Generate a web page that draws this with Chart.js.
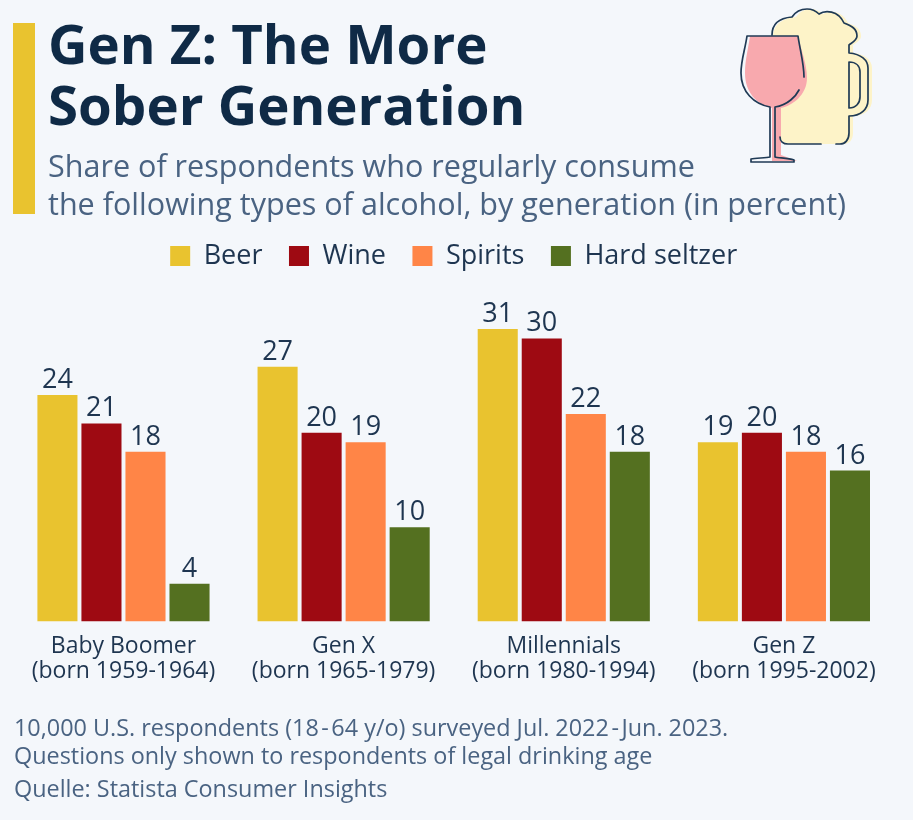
<!DOCTYPE html>
<html>
<head>
<meta charset="utf-8">
<script src="https://cdn.jsdelivr.net/npm/chart.js@4"></script>
<style>
  html, body { margin: 0; padding: 0; background: #f4f7fb; }
  body { width: 913px; height: 820px; position: relative; overflow: hidden; font-family: "Open Sans", sans-serif; }
  #sample_chart { position: absolute; left: 0; top: 0; }
  .txt { position: absolute; white-space: nowrap; }
  .hy { margin: 0 2.5px; }
  #bar { position: absolute; left: 13px; top: 23px; width: 22px; height: 191px; background: #e9c32f; }
  #title { left: 48px; top: 13px; font-size: 54.6px; font-weight: 700; line-height: 61px; color: #0f2a46; }
  #subtitle { left: 48px; top: 146px; font-size: 30.55px; line-height: 38px; color: #4a6382; }
  #note { left: 14px; top: 713px; font-size: 23.4px; line-height: 28px; color: #4a6382; }
  #source { left: 14px; top: 774px; font-size: 23.4px; line-height: 28px; color: #4a6382; }
  #icon { position: absolute; left: 720px; top: 0; }
</style>
</head>
<body>
<canvas id="sample_chart" width="913" height="820"></canvas>
<div id="bar"></div>
<div id="title" class="txt">Gen Z: The More<br>Sober Generation</div>
<div id="subtitle" class="txt">Share of respondents who regularly consume<br>the following types of alcohol, by generation (in percent)</div>
<div id="note" class="txt">10,000 U.S. respondents (18<span class="hy">-</span>64 y/o) surveyed Jul. 2022<span class="hy">-</span>Jun. 2023.<br>Questions only shown to respondents of legal drinking age</div>
<div id="source" class="txt">Quelle: Statista Consumer Insights</div>
<svg id="icon" width="193" height="175" viewBox="0 0 193 175">
  <path transform="translate(4 0)" fill="#fdf3c8" d="M49 35 C50 23 60 18 72 17 C76 11 82 9 87 9 C91 9 96 11 99 14 C105 10 118 10 124 23 C132 26 137 29 137 36 C137 40 133 42 129 45 L129 53 C141 54 148 60 148 68 L148 100 C148 109 141 116 129 116 L129 133 C129 140 125 144 120 144 L68 144 C60 144 55 140 55 133 Z"/>
  <path fill="#f8a9ae" d="M30 36 L78 36 C81 50 87 64 87 78 C87 95 72 106 61 108 L61 155 L77 161 L52 161 L52 108 C36 104 25 92 25 73 C25 60 28 50 30 36 Z"/>
  <g fill="none" stroke="#1f3a55" stroke-width="1.7" stroke-linecap="round" stroke-linejoin="round">
    <path d="M52 35 C52 23 60 18 72 17 C76 11 82 9 87 9 C91 9 96 11 99 14 C105 10 118 10 124 23 C132 26 137 29 137 36 C137 40 133 42 129 45 L129 53 C141 54 148 60 148 68 L148 100 C148 109 141 116 129 116 L129 133 C129 140 125 144 120 144 L116 144 M101 144 L68 144 C63 144 60 141 60 137"/>
    <path d="M129 62 C136 62 140 66 140 72 L140 97 C140 103 136 108 129 108 Z"/>
    <path d="M27 36 L78 36 C80 50 84 64 84 77 M27 36 C25 50 21 60 21 73 C21 92 34 104 50 107 L50 157 C46 158 36 158 31 159 L31 162 L74 162 L74 160 C68 158 58 158 55 157 L55 107 C68 105 76 96 79 90"/>
  </g>
</svg>
<script>
const categories = [
  ['Baby Boomer', '(born 1959-1964)'],
  ['Gen X', '(born 1965-1979)'],
  ['Millennials', '(born 1980-1994)'],
  ['Gen Z', '(born 1995-2002)']
];
const beer = [24, 27, 31, 19];
const wine = [21, 20, 30, 20];
const spirits = [18, 19, 22, 18];
const hardSeltzer = [4, 10, 18, 16];

// value above each bar
const valueLabels = {
  id: 'valueLabels',
  afterDatasetsDraw(chart) {
    const c = chart.ctx;
    c.save();
    c.font = '27px "Open Sans"';
    c.fillStyle = '#1e3550';
    c.textAlign = 'center';
    c.textBaseline = 'alphabetic';
    chart.data.datasets.forEach((ds, i) => {
      chart.getDatasetMeta(i).data.forEach((bar, j) => {
        c.fillText(ds.data[j], bar.x, bar.y - 7);
      });
    });
    c.restore();
  }
};

const ctx = document.getElementById('sample_chart');
const myChart = new Chart(ctx, {
  type: 'bar',
  data: {
    labels: categories,
    datasets: [
      { label: 'Beer', data: beer, backgroundColor: '#e9c32f' },
      { label: 'Wine', data: wine, backgroundColor: '#9e0a12' },
      { label: 'Spirits', data: spirits, backgroundColor: '#ff8547' },
      { label: 'Hard seltzer', data: hardSeltzer, backgroundColor: '#547020' }
    ]
  },
  options: {
    responsive: false,
    animation: false,
    layout: { padding: { left: 13.4, right: 19, top: 216, bottom: 123.5 } },
    datasets: { bar: { categoryPercentage: 0.8, barPercentage: 0.91 } },
    plugins: {
      tooltip: { enabled: false },
      legend: {
        position: 'top',
        labels: {
          boxWidth: 20,
          boxHeight: 20,
          padding: 26.5,
          color: '#1e3550',
          font: { family: '"Open Sans"', size: 27 }
        }
      }
    },
    scales: {
      x: {
        grid: { display: false },
        border: { display: false },
        afterFit(scale) { scale.height = 75; },
        ticks: {
          color: '#1e3550',
          maxRotation: 0,
          padding: 4,
          font: { family: '"Open Sans"', size: 23, lineHeight: 1.09 }
        }
      },
      y: { display: false, min: 0, max: 36.25 }
    }
  },
  plugins: [valueLabels]
});
</script>
</body>
</html>
